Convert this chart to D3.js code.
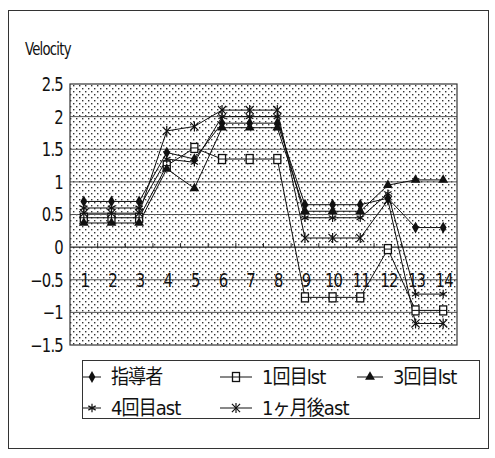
<!DOCTYPE html>
<html><head><meta charset="utf-8">
<script src="https://cdn.jsdelivr.net/npm/d3@7"></script>
<style>
html,body{margin:0;padding:0;background:#fff;}
text{fill:#111;}
</style></head>
<body>
<svg id="c" width="495" height="458"></svg>
<script>
const categories = ["1","2","3","4","5","6","7","8","9","10","11","12","13","14"];
const seriesNames = ["指導者","1回目lst","3回目lst","4回目ast","1ヶ月後ast"];
const s1 = [0.7,0.7,0.7,1.45,1.35,1.9,1.9,1.9,0.65,0.65,0.65,0.75,0.3,0.3];
const s2 = [0.45,0.45,0.45,1.25,1.52,1.35,1.35,1.35,-0.77,-0.77,-0.77,-0.03,-0.97,-0.97];
const s3 = [0.37,0.37,0.37,1.2,0.9,1.83,1.83,1.83,0.55,0.55,0.55,0.95,1.03,1.03];
const s4 = [0.6,0.6,0.6,1.35,1.3,2.0,2.0,2.0,0.45,0.45,0.45,0.82,-0.72,-0.72];
const s5 = [0.52,0.52,0.52,1.78,1.85,2.1,2.1,2.1,0.14,0.14,0.14,0.72,-1.17,-1.17];
const yTicks = [2.5,2,1.5,1,0.5,0,-0.5,-1,-1.5];
const allSeries = [s1,s2,s3,s4,s5];
const markerTypes = ["diamond","square","triangle","asterisk","xbar"];

const svg = d3.select("#c");
const latin = "'DejaVu Sans',sans-serif";
const cjk = "'DejaVu Sans','Noto Sans CJK JP',sans-serif";

// outer frame
svg.append("rect").attr("x",8.5).attr("y",10.5).attr("width",480).attr("height",438)
  .attr("fill","none").attr("stroke","#333").attr("stroke-width",1);

const L=70, R=457, T=84, B=345;
const x = d3.scaleBand().domain(categories).range([L,R]);
const y = d3.scaleLinear().domain([-1.5,2.5]).range([B,T]);

// dot pattern
const defs = svg.append("defs");
const pat = defs.append("pattern").attr("id","dots").attr("patternUnits","userSpaceOnUse")
  .attr("width",6).attr("height",6);
pat.append("rect").attr("width",6).attr("height",6).attr("fill","#fff");
pat.append("rect").attr("x",1).attr("y",1).attr("width",1.4).attr("height",1.4).attr("fill","#333");
pat.append("rect").attr("x",4).attr("y",4).attr("width",1.4).attr("height",1.4).attr("fill","#333");

svg.append("rect").attr("x",L).attr("y",T).attr("width",R-L).attr("height",B-T)
  .attr("fill","url(#dots)");

// gridlines
svg.append("g").selectAll("line").data(yTicks.filter(v=>v!==2.5 && v!==-1.5)).join("line")
  .attr("x1",L).attr("x2",R).attr("y1",d=>y(d)).attr("y2",d=>y(d))
  .attr("stroke",d=>d===0?"#222":"#555").attr("stroke-width",d=>d===0?1.3:1);

// plot border
svg.append("rect").attr("x",L).attr("y",T).attr("width",R-L).attr("height",B-T)
  .attr("fill","none").attr("stroke","#333").attr("stroke-width",1.2);

function narrow(sel, sx){
  sel.attr("transform", function(){
    const xx = +d3.select(this).attr("x");
    return `translate(${xx*(1-sx)},0) scale(${sx},1)`;
  });
}

// y axis labels
svg.append("g").selectAll("text").data(yTicks).join("text")
  .attr("x",63).attr("y",d=>y(d)+7).attr("text-anchor","end")
  .attr("font-family",latin).attr("font-size",19).attr("letter-spacing",-1)
  .text(d=>d3.format("")(d).replace("-","−"))
  .call(narrow,0.78);

// x ticks at zero line
const bounds = categories.slice(1).map(c=>x(c));
svg.append("g").selectAll("line").data(bounds).join("line")
  .attr("x1",d=>d).attr("x2",d=>d).attr("y1",y(0)).attr("y2",y(0)-4)
  .attr("stroke","#222");
// x labels
svg.append("g").selectAll("text").data(categories).join("text")
  .attr("x",d=>x(d)+x.bandwidth()/2+1).attr("y",287).attr("text-anchor","middle")
  .attr("font-family",latin).attr("font-size",19).attr("letter-spacing",-1)
  .text(d=>d)
  .call(narrow,0.78);

// title
svg.append("text").attr("x",25).attr("y",55).attr("font-family",latin).attr("font-size",17)
  .attr("letter-spacing",-1).text("Velocity").call(narrow,0.78);

function drawMarker(g, type, cx, cy){
  if(type==="diamond"){
    g.append("path").attr("d",d3.symbol(d3.symbolDiamond,40)()).attr("transform",`translate(${cx},${cy})`)
      .attr("fill","#111");
  } else if(type==="square"){
    g.append("rect").attr("x",cx-3.5).attr("y",cy-4.5).attr("width",7).attr("height",9)
      .attr("fill","#fff").attr("stroke","#111").attr("stroke-width",1.3);
    g.append("line").attr("x1",cx-3.5).attr("x2",cx+3.5).attr("y1",cy).attr("y2",cy).attr("stroke","#111");
  } else if(type==="triangle"){
    g.append("path").attr("d",d3.symbol(d3.symbolTriangle,42)()).attr("transform",`translate(${cx},${cy})`)
      .attr("fill","#111");
  } else if(type==="asterisk"){
    g.append("path").attr("d",d3.symbol(d3.symbolAsterisk,50)()).attr("transform",`translate(${cx},${cy})`)
      .attr("fill","none").attr("stroke","#111").attr("stroke-width",1.2);
  } else {
    g.append("path").attr("d",d3.symbol(d3.symbolTimes,45)()).attr("transform",`translate(${cx},${cy})`)
      .attr("fill","none").attr("stroke","#111").attr("stroke-width",1.2);
    g.append("line").attr("x1",cx).attr("x2",cx).attr("y1",cy-5).attr("y2",cy+5).attr("stroke","#111").attr("stroke-width",1.2);
  }
}

const line = d3.line().x((d,i)=>x(categories[i])+x.bandwidth()/2).y(d=>y(d));
allSeries.forEach((s,k)=>{
  svg.append("path").datum(s).attr("d",line).attr("fill","none").attr("stroke","#111").attr("stroke-width",1);
});
allSeries.forEach((s,k)=>{
  const g = svg.append("g");
  s.forEach((v,i)=>drawMarker(g, markerTypes[k], x(categories[i])+x.bandwidth()/2, y(v)));
});

// legend
svg.append("rect").attr("x",82.5).attr("y",360.5).attr("width",397).attr("height",58)
  .attr("fill","#fff").attr("stroke","#333");
const legendPos = [[83,377],[220,377],[357,377],[83,408],[220,408]];
seriesNames.forEach((n,k)=>{
  const [lx,ly] = legendPos[k];
  const g = svg.append("g");
  const w = k===2?26:(k===0||k===3?18:32);
  g.append("line").attr("x1",lx).attr("x2",lx+w).attr("y1",ly).attr("y2",ly).attr("stroke","#111");
  drawMarker(g, markerTypes[k], lx+w/2, ly);
  g.append("text").attr("x",lx+w+10).attr("y",ly+7).attr("font-family",cjk).attr("font-size",20)
    .attr("letter-spacing",-1).text(n).call(narrow,0.9);
});
</script>
</body></html>
